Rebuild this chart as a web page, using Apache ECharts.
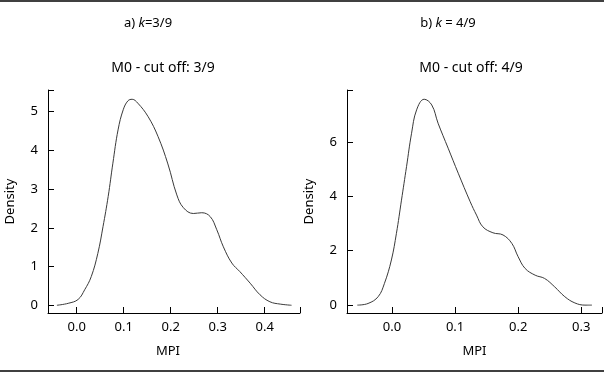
<!DOCTYPE html>
<html>
<head>
<meta charset="utf-8">
<script src="https://cdn.jsdelivr.net/npm/echarts@6/dist/echarts.min.js"></script>
<style>
  html, body { margin: 0; padding: 0; background: #fff; }
  #main { width: 606px; height: 374px; }
</style>
</head>
<body>
<div id="main"></div>
<script>
var chart = echarts.init(document.getElementById('main'));

// panel a) k=3/9
var mpiA = [-0.042, -0.018, 0.003, 0.017, 0.031, 0.045, 0.056, 0.067, 0.077, 0.088, 0.099, 0.109, 0.118, 0.130, 0.152, 0.173, 0.194, 0.213, 0.227, 0.248, 0.266, 0.284, 0.298, 0.312, 0.330, 0.347, 0.369, 0.390, 0.411, 0.433, 0.457];
var densA = [0, 0.05, 0.15, 0.40, 0.74, 1.34, 2.03, 2.81, 3.67, 4.53, 5.05, 5.28, 5.32, 5.22, 4.87, 4.36, 3.65, 2.85, 2.52, 2.37, 2.39, 2.29, 1.95, 1.51, 1.09, 0.87, 0.57, 0.27, 0.09, 0.03, 0];
var xTicksA = [0, 0.1, 0.2, 0.3, 0.4];
var yTicksA = [0, 1, 2, 3, 4, 5];

// panel b) k=4/9
var mpiB = [-0.055, -0.038, -0.022, -0.012, -0.001, 0.007, 0.015, 0.023, 0.031, 0.039, 0.051, 0.063, 0.073, 0.089, 0.105, 0.124, 0.134, 0.144, 0.160, 0.176, 0.190, 0.200, 0.211, 0.227, 0.242, 0.258, 0.274, 0.290, 0.306, 0.317];
var densB = [0, 0.06, 0.31, 0.80, 1.66, 2.64, 3.86, 5.09, 6.32, 7.18, 7.57, 7.36, 6.69, 5.77, 4.85, 3.80, 3.31, 2.88, 2.66, 2.58, 2.27, 1.78, 1.35, 1.10, 0.98, 0.67, 0.31, 0.08, 0, 0];
var xTicksB = [0, 0.1, 0.2, 0.3];
var yTicksB = [0, 2, 4, 6];

var font = 'Noto Sans';

function pairs(xs, ys) {
    return xs.map(function (x, i) { return [x, ys[i]]; });
}

function xAxisOf(idx, min, max, ticks, nameRight) {
    return {
        type: 'value', gridIndex: idx, min: min, max: max,
        name: 'MPI', nameLocation: 'middle', nameGap: 32,
        nameTextStyle: { fontFamily: font, fontSize: 13, color: '#000', padding: [0, nameRight, 0, 0] },
        axisLine: { onZero: false, lineStyle: { color: '#000', width: 1 } },
        axisTick: { inside: true, length: 6, lineStyle: { color: '#000' }, customValues: [min].concat(ticks, [max]) },
        axisLabel: { customValues: ticks, margin: 8, fontFamily: font, fontSize: 13, color: '#000',
            formatter: function (v) { return v.toFixed(1); } },
        splitLine: { show: false }
    };
}

function yAxisOf(idx, min, max, ticks) {
    return {
        type: 'value', gridIndex: idx, min: min, max: max,
        name: 'Density', nameLocation: 'middle', nameGap: 31,
        nameTextStyle: { fontFamily: font, fontSize: 13, color: '#000' },
        axisLine: { show: true, onZero: false, lineStyle: { color: '#000', width: 1 } },
        axisTick: { show: true, inside: true, length: 6, lineStyle: { color: '#000' }, customValues: [min].concat(ticks, [max]) },
        axisLabel: { customValues: ticks, margin: 10, fontFamily: font, fontSize: 13, color: '#000' },
        splitLine: { show: false }
    };
}

var titleStyle = { fontFamily: font, fontSize: 13, fontWeight: 'normal', color: '#000',
    rich: { i: { fontFamily: font, fontSize: 13, fontStyle: 'italic', color: '#000' } } };
var subStyle = { fontFamily: font, fontSize: 14, fontWeight: 'normal', color: '#000' };

option = {
    backgroundColor: '#fff',
    animation: false,
    title: [
        { text: 'a) {i|k}=3/9', left: 148, top: 17, textAlign: 'center', padding: 0, textStyle: titleStyle },
        { text: 'b) {i|k} = 4/9', left: 448, top: 17, textAlign: 'center', padding: 0, textStyle: titleStyle },
        { text: 'M0 - cut off: 3/9', left: 163, top: 61, textAlign: 'center', padding: 0, textStyle: subStyle },
        { text: 'M0 - cut off: 4/9', left: 471, top: 61, textAlign: 'center', padding: 0, textStyle: subStyle }
    ],
    grid: [
        { left: 48, right: 306, top: 90, bottom: 61 },
        { left: 347, right: 4, top: 90, bottom: 61 }
    ],
    xAxis: [
        xAxisOf(0, -0.061, 0.475, xTicksA, 12),
        xAxisOf(1, -0.0714, 0.333, xTicksB, 0)
    ],
    yAxis: [
        yAxisOf(0, -0.2, 5.56, yTicksA),
        yAxisOf(1, -0.29, 7.91, yTicksB)
    ],
    series: [{
        name: 'k=3/9',
        type: 'line',
        xAxisIndex: 0,
        yAxisIndex: 0,
        data: pairs(mpiA, densA),
        smooth: 0.4,
        showSymbol: false,
        symbol: 'none',
        lineStyle: { color: '#3a3a3a', width: 1 }
    }, {
        name: 'k=4/9',
        type: 'line',
        xAxisIndex: 1,
        yAxisIndex: 1,
        data: pairs(mpiB, densB),
        smooth: 0.4,
        showSymbol: false,
        symbol: 'none',
        lineStyle: { color: '#3a3a3a', width: 1 }
    }],
    graphic: [
        // rules above and below the figure
        { type: 'line', shape: { x1: 0, y1: 1, x2: 604, y2: 1 }, style: { stroke: '#000', lineWidth: 1.5 } },
        { type: 'line', shape: { x1: 0, y1: 371, x2: 604, y2: 371 }, style: { stroke: '#000', lineWidth: 1.5 } }
    ]
};

chart.setOption(option);
</script>
</body>
</html>
